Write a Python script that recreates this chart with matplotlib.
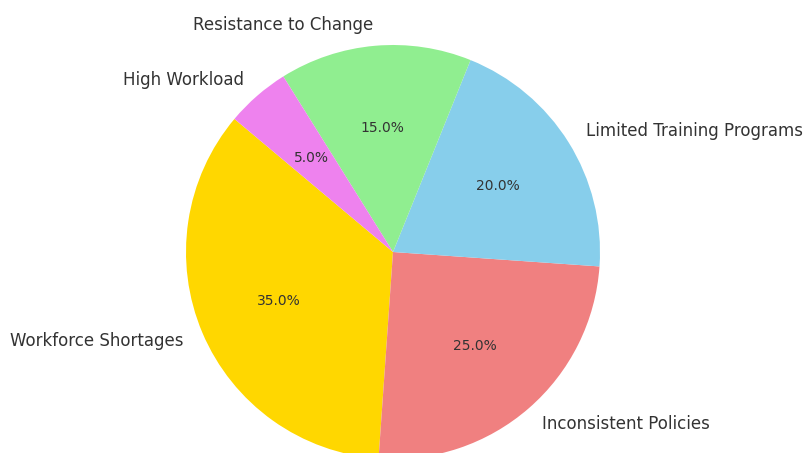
import matplotlib.pyplot as plt

# data
labels = ['Workforce Shortages', 'Inconsistent Policies', 'Limited Training Programs',
          'Resistance to Change', 'High Workload']
sizes = [35, 25, 20, 15, 5]
colors = ['gold', 'lightcoral', 'skyblue', 'lightgreen', 'violet']

fig = plt.figure(figsize=(8.04, 4.53), dpi=100)
ax = fig.add_axes([0, 0, 1, 1])

wedges, texts, autotexts = ax.pie(sizes, labels=labels, colors=colors,
                                  autopct='%1.1f%%', startangle=140,
                                  textprops={'color': '#333333', 'fontsize': 12})
for t in autotexts:
    t.set_fontsize(10)

# place the pie like the reference (center ~ (393, 252) px, radius ~207 px)
ax.set_xlim(-393 / 207, (804 - 393) / 207)
ax.set_ylim(-(453 - 252) / 207, 252 / 207)
ax.set_aspect('auto')
ax.axis('off')
for t in texts + autotexts:
    t.set_clip_on(False)

plt.savefig('out.png', dpi=100)
